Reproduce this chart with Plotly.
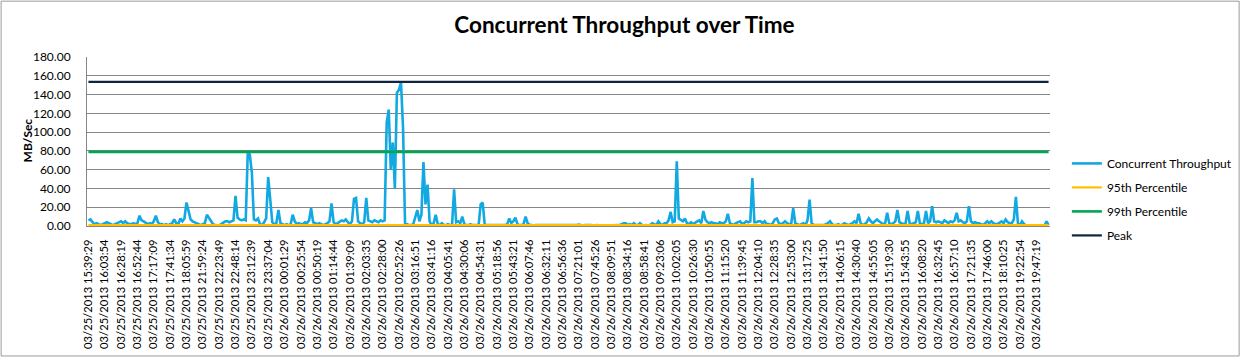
import plotly.graph_objects as go

# ---------------- data ----------------
tick_labels = [
    "03/25/2013 15:39:29", "03/25/2013 16:03:54", "03/25/2013 16:28:19", "03/25/2013 16:52:44",
    "03/25/2013 17:17:09", "03/25/2013 17:41:34", "03/25/2013 18:05:59", "03/25/2013 21:59:24",
    "03/25/2013 22:23:49", "03/25/2013 22:48:14", "03/25/2013 23:12:39", "03/25/2013 23:37:04",
    "03/26/2013 00:01:29", "03/26/2013 00:25:54", "03/26/2013 00:50:19", "03/26/2013 01:14:44",
    "03/26/2013 01:39:09", "03/26/2013 02:03:35", "03/26/2013 02:28:00", "03/26/2013 02:52:26",
    "03/26/2013 03:16:51", "03/26/2013 03:41:16", "03/26/2013 04:05:41", "03/26/2013 04:30:06",
    "03/26/2013 04:54:31", "03/26/2013 05:18:56", "03/26/2013 05:43:21", "03/26/2013 06:07:46",
    "03/26/2013 06:32:11", "03/26/2013 06:56:36", "03/26/2013 07:21:01", "03/26/2013 07:45:26",
    "03/26/2013 08:09:51", "03/26/2013 08:34:16", "03/26/2013 08:58:41", "03/26/2013 09:23:06",
    "03/26/2013 10:02:05", "03/26/2013 10:26:30", "03/26/2013 10:50:55", "03/26/2013 11:15:20",
    "03/26/2013 11:39:45", "03/26/2013 12:04:10", "03/26/2013 12:28:35", "03/26/2013 12:53:00",
    "03/26/2013 13:17:25", "03/26/2013 13:41:50", "03/26/2013 14:06:15", "03/26/2013 14:30:40",
    "03/26/2013 14:55:05", "03/26/2013 15:19:30", "03/26/2013 15:43:55", "03/26/2013 16:08:20",
    "03/26/2013 16:32:45", "03/26/2013 16:57:10", "03/26/2013 17:21:35", "03/26/2013 17:46:00",
    "03/26/2013 18:10:25", "03/26/2013 19:22:54", "03/26/2013 19:47:19",
]
points_per_label = 8  # samples between two consecutive tick labels

throughput = [
    6, 7, 4, 2, 3, 2, 1, 2, 3, 4, 3, 2, 1, 2, 3, 4, 5, 3, 5, 3,
    2, 2, 3, 2, 3, 11, 6, 5, 3, 2, 3, 2, 5, 11, 4, 2, 2, 1, 2, 1,
    2, 3, 7, 3, 2, 8, 5, 8, 25, 14, 7, 5, 4, 3, 2, 1, 2, 3, 12, 9,
    5, 2, 1, 1, 0.5, 2, 4, 5, 5, 4, 5, 6, 32, 9, 7, 6, 7, 6, 78, 76,
    57, 7, 6, 8, 2, 1, 4, 8, 52, 24, 4, 2, 3, 17, 3, 2, 1, 2, 1, 2,
    12, 5, 2, 3, 2, 2, 4, 3, 6, 19, 4, 3, 2, 3, 2, 1, 2, 3, 5, 24,
    4, 2, 3, 5, 6, 5, 7, 4, 2, 5, 29, 30, 5, 3, 2, 4, 30, 6, 5, 4,
    6, 5, 4, 6, 5, 6, 110, 124, 60, 89, 40, 142, 145, 153, 105, 1, 2, 1, 1, 2,
    10, 17, 5, 12, 68, 23, 44, 5, 1, 3, 12, 2, 1, 3, 1, 1, 2, 1, 1, 39,
    4, 5, 3, 10, 2, 1, 1, 2, 1, 1, 1, 1, 23, 25, 1, 1, 1, 1, 1, 1,
    0.5, 1, 1, 1, 1, 2, 8, 3, 5, 9, 2, 1, 1, 2, 10, 3, 1, 1, 0.5, 1,
    1, 1, 0.5, 1, 1, 0.5, 1, 0.3, 0.3, 0.3, 0.3, 0.3, 0.3, 0.5, 1, 0.5, 1, 1, 0.5, 1,
    1.5, 1, 0.5, 1, 1, 1.5, 1, 0.5, 1, 1, 0.3, 0.3, 0.3, 0.3, 0.3, 0.5, 1, 1, 0.5, 1,
    1, 2, 3, 3, 1, 2, 1, 3, 1, 1, 3, 1, 0.5, 1, 0.5, 1, 3, 2, 1, 5,
    2, 1, 3, 3, 6, 15, 4, 5, 69, 8, 6, 5, 8, 3, 2, 4, 2, 4, 5, 6,
    3, 16, 7, 4, 3, 4, 3, 3, 2, 4, 3, 3, 5, 13, 3, 2, 1, 3, 4, 5,
    2, 3, 5, 4, 5, 51, 4, 4, 5, 5, 3, 5, 2, 2, 1, 3, 7, 8, 3, 2,
    3, 5, 3, 2, 2, 19, 3, 2, 1, 2, 3, 1, 6, 28, 3, 1, 1, 1, 0.5, 0.5,
    1, 2, 3, 5, 2, 1, 1, 2, 1, 1, 3, 2, 1, 2, 3, 5, 3, 13, 3, 1,
    2, 4, 8, 5, 3, 5, 7, 5, 3, 2, 3, 14, 3, 2, 3, 5, 17, 4, 3, 2,
    3, 16, 3, 2, 3, 4, 16, 3, 2, 3, 16, 3, 5, 21, 5, 4, 5, 4, 3, 6,
    4, 3, 5, 4, 6, 14, 5, 6, 4, 3, 5, 21, 5, 3, 4, 3, 3, 2, 1, 3,
    5, 3, 5, 3, 2, 2, 4, 5, 3, 7, 4, 3, 3, 7, 31, 3, 1, 5, 2, 0.5,
    0.3, 0.3, 0.3, 0.3, 0.3, 0.3, 0.3, 0.3, 0.3, 5, 1,
]
p95_value = 0.9
p99_value = 79.0
peak_value = 153.4

series_names = ["Concurrent Throughput", "95th Percentile", "99th Percentile", "Peak"]
series_colors = ["#12A9E2", "#FFC000", "#00A651", "#0F243E"]

# ---------------- figure ----------------
n = len(throughput)
x_idx = list(range(n))
tickvals = [k * points_per_label for k in range(len(tick_labels))]

FONT = "Lato"
fig = go.Figure()
fig.add_trace(go.Scatter(x=x_idx, y=throughput, mode="lines", name=series_names[0],
                         legendgroup="a", line=dict(color=series_colors[0], width=2.6)))
for j, v in enumerate([p95_value, p99_value, peak_value], start=1):
    fig.add_trace(go.Scatter(x=[x_idx[0], x_idx[-1]], y=[v, v], mode="lines",
                             name=series_names[j], legendgroup=series_names[j],
                             line=dict(color=series_colors[j], width=2.6 if j == 2 else 2.2)))

W, H = 1249, 361
ml, mr, mt, mb = 87, 192, 57, 133
pw, ph = W - ml - mr, H - mt - mb

fig.update_layout(
    width=W, height=H, autosize=False,
    margin=dict(l=ml, r=mr, t=mt, b=mb, pad=0),
    paper_bgcolor="white", plot_bgcolor="white",
    font=dict(family=FONT, size=12, color="#000000"),
    title=dict(text="<b>Concurrent Throughput over Time</b>", x=0.5, xref="container",
               xanchor="center", y=1 - 25 / H, yanchor="middle",
               font=dict(family=FONT, size=22.5, color="#000000")),
    showlegend=True,
    legend=dict(x=(1074 - ml) / pw, xanchor="left", y=(mt + ph - 150) / ph, yanchor="top",
                traceorder="grouped", tracegroupgap=5,
                font=dict(family=FONT, size=12, color="#000000"),
                bgcolor="rgba(0,0,0,0)"),
    xaxis=dict(range=[-0.7, n - 0.3], tickmode="array", tickvals=tickvals, ticktext=tick_labels,
               tickangle=-90, tickfont=dict(family=FONT, size=11.2, color="#000000"),
               showgrid=False, zeroline=False, showline=True, linecolor="#868686",
               ticks="", ticklabelstandoff=8, fixedrange=True),
    yaxis=dict(range=[0, 180], dtick=20, tickformat=".2f",
               tickfont=dict(family=FONT, size=12, color="#000000"),
               showgrid=True, gridcolor="#868686", gridwidth=1, zeroline=False,
               showline=True, linecolor="#868686", ticks="", ticklabelstandoff=13,
               fixedrange=True),
)

# y axis title
fig.add_annotation(text="<b>MB/Sec</b>", textangle=-90, xref="paper", yref="paper",
                   x=(27 - ml) / pw, y=(mt + ph - 141) / ph, xanchor="center", yanchor="middle",
                   showarrow=False, font=dict(family=FONT, size=12, color="#000000"))

# outer chart border
fig.add_shape(type="rect", xref="paper", yref="paper",
              x0=(0.5 - ml) / pw, x1=(W - 1.5 - ml) / pw,
              y0=(mt + ph - (H - 1.5)) / ph, y1=(mt + ph - 0.5) / ph,
              line=dict(color="#9A9A9A", width=1), layer="below")

fig.write_html("out.html", config={"displayModeBar": False},
               post_script="document.body.style.margin='0';document.body.style.overflow='hidden';")
